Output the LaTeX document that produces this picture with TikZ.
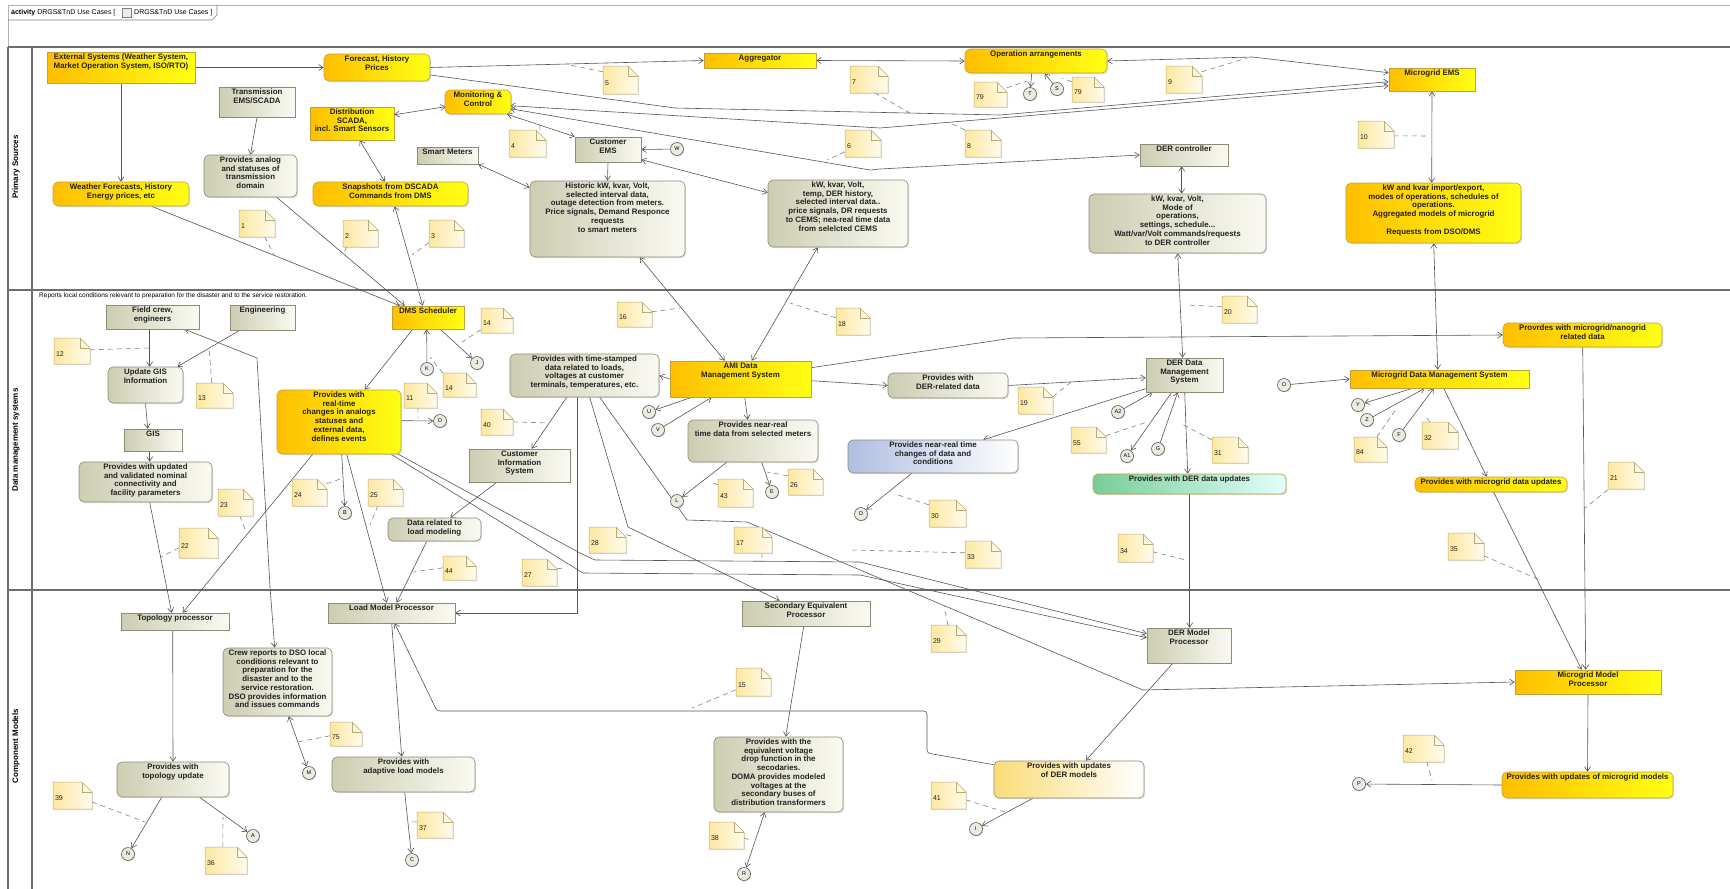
\documentclass[tikz,border=0pt]{standalone}
\usepackage{fontspec}
\setmainfont{Liberation Sans}
\usetikzlibrary{arrows.meta,calc,shadows}
\pgfdeclarelayer{bg}
\pgfsetlayers{bg,main}
\definecolor{yl}{RGB}{255,190,0}
\definecolor{yr}{RGB}{255,255,20}
\definecolor{ybd}{RGB}{190,160,60}
\definecolor{gl}{RGB}{205,205,178}
\definecolor{gr}{RGB}{250,250,243}
\definecolor{gbd}{RGB}{140,140,120}
\definecolor{nl}{RGB}{253,232,160}
\definecolor{nr}{RGB}{255,251,236}
\definecolor{nbd}{RGB}{185,170,120}
\definecolor{bl}{RGB}{175,190,225}
\definecolor{grl}{RGB}{120,205,150}
\definecolor{grr}{RGB}{225,255,250}
\definecolor{lyl}{RGB}{250,220,120}
\definecolor{lnc}{RGB}{85,85,85}
\definecolor{frc}{RGB}{110,110,110}
\definecolor{cfill}{RGB}{235,235,225}
\definecolor{txc}{RGB}{35,35,35}
\newcommand\TBox[3]{\parbox[c][#2pt][t]{#1pt}{\centering\vspace*{1.5pt}\begin{tabular}{@{}c@{}}#3\end{tabular}\par}}
\newcommand\BX[7]{\node[#1] (#2) at (#3,#4) {\TBox{#5}{#6}{#7}};}
\newcommand\CIRC[4]{\node[circ] (#1) at (#2,#3) {#4};}
\newcommand\NOTE[6]{%
 \path[notefill] (#2,#3) -- ({#4-10},#3) -- (#4,{#3+10}) -- (#4,#5) -- (#2,#5) -- cycle;
 \draw[nbd, line width=0.5pt] ({#4-10},#3) -- ({#4-10},{#3+10}) -- (#4,{#3+10});
 \node[notenode, minimum width={(#4-#2)*1pt}, minimum height={(#5-#3)*1pt}] (#1) at ({(#2+#4)/2},{(#3+#5)/2}) {};
 \node[notetext, anchor=west] (#1-t) at ($(#1.west)+(2,3)$) {#6};}
\newcommand\NDASH[5]{\coordinate (#1-e) at (#4,#5); \draw[notedash] ($(#1.north west)+(#2,#3)$) -- (#1-e);}
\begin{document}
\begin{tikzpicture}[x=1pt,y=-1pt,
  ln/.style={draw=lnc, line width=0.6pt},
  arr/.style={ln, -{Straight Barb[length=4.5pt,width=6pt]}},
  barr/.style={ln, {Straight Barb[length=4.5pt,width=6pt]}-{Straight Barb[length=4.5pt,width=6pt]}},
  box/.style={inner sep=0pt, font=\bfseries\fontsize{7.9}{8.7}\selectfont, text=txc, line width=0.6pt,
     drop shadow={shadow xshift=1.2pt, shadow yshift=-1.2pt, opacity=0.25}},
  ybox/.style={box, draw=ybd, left color=yl, right color=yr},
  gbox/.style={box, draw=gbd, left color=gl, right color=gr},
  bbox/.style={box, draw=gbd, left color=bl, right color=white},
  grbox/.style={box, draw=ybd, left color=grl, right color=grr},
  lybox/.style={box, draw=gbd, left color=lyl, right color=white},
  rnd/.style={rounded corners=5pt},
  circ/.style={circle, draw=gray!70!black, fill=cfill, minimum size=13pt, inner sep=0pt, line width=0.6pt,
     font=\fontsize{5.5}{6}\selectfont, drop shadow={shadow xshift=0.8pt, shadow yshift=-0.8pt, opacity=0.25}},
  notefill/.style={draw=nbd, line width=0.5pt, left color=nl, right color=nr,
     drop shadow={shadow xshift=1pt, shadow yshift=-1pt, opacity=0.2}},
  notenode/.style={inner sep=0pt, draw=none},
  notetext/.style={inner sep=0pt, font=\fontsize{7}{8}\selectfont, text=txc},
  notedash/.style={draw=gray, line width=0.6pt, dash pattern=on 5pt off 4pt},
  frame/.style={draw=frc, line width=1.2pt}
]
\useasboundingbox (0,0) rectangle (1730,889);

% ---------- tab and lane labels ----------
\node[anchor=west, inner sep=0pt, font=\fontsize{7}{8}\selectfont] (tab1) at (11,12.5) {\textbf{activity}\ DRGS\&TnD Use Cases [};
\node[draw=gray, fill=gray!15, minimum width=9pt, minimum height=9pt, inner sep=0pt] (tabicon) at (127,12.5) {};
\node[anchor=west, inner sep=0pt, font=\fontsize{7}{8}\selectfont] (tab2) at (134,12.5) {DRGS\&TnD Use Cases ]};
\node[rotate=90, font=\bfseries\fontsize{8}{9}\selectfont] (lane1) at (16,167) {Primary Sources};
\node[rotate=90, font=\bfseries\fontsize{8}{9}\selectfont] (lane2) at (16,440) {Data management systems};
\node[rotate=90, font=\bfseries\fontsize{8}{9}\selectfont] (lane3) at (16,746) {Component Models};
\node[anchor=west, inner sep=0pt, font=\fontsize{6.5}{7}\selectfont] (rep) at (39,295.5) {Reports local conditions relevant to preparation for the disaster and to the service restoration.};

% ---------- Primary Sources ----------
\BX{ybox}{ext}{121}{67.5}{148}{31}{External Systems (Weather System,\\ Market Operation System, ISO/RTO)}
\BX{ybox,rnd}{fcst}{377}{67.5}{106}{27}{Forecast, History\\Prices}
\BX{gbox}{tems}{257}{102}{76}{30}{Transmission\\EMS/SCADA}
\BX{ybox}{dscada}{352}{123.5}{84}{33}{Distribution\\SCADA,\\incl. Smart Sensors}
\BX{gbox,rnd}{analog}{250.5}{176}{93}{42}{Provides analog\\and statuses of\\transmission\\domain}
\BX{ybox,rnd}{wfc}{121}{194}{136}{24}{Weather Forecasts, History\\Energy prices, etc}
\BX{ybox,rnd}{snap}{390.5}{194}{155}{24}{Snapshots from DSCADA\\Commands from DMS}
\BX{gbox}{smeters}{447.5}{155.5}{61}{17}{Smart Meters}
\BX{ybox}{agg}{760}{60.5}{112}{15}{Aggregator}
\BX{ybox,rnd}{mon}{478}{102}{66}{24}{Monitoring \&\\Control}
\BX{gbox}{cems}{608}{149.5}{66}{25}{Customer\\EMS}
\BX{gbox,rnd}{hist}{607.5}{219}{155}{76}{Historic kW, kvar, Volt,\\selected interval data,\\outage detection from meters.\\Price signals, Demand Responce\\requests\\to smart meters}
\BX{gbox,rnd}{kwbox}{838}{213.5}{140}{67}{kW, kvar, Volt,\\temp, DER history,\\selected interval data..\\price signals, DR requests\\to CEMS; nea-real time data\\from selelcted CEMS}
\BX{ybox,rnd}{oparr}{1036}{61}{142}{24}{Operation arrangements}
\BX{gbox}{derc}{1184}{155}{88}{22}{DER controller}
\BX{gbox,rnd}{kwmode}{1177.5}{223.5}{177}{59}{kW, kvar, Volt,\\Mode of\\operations,\\settings, schedule...\\Watt/var/Volt commands/requests\\to DER controller}
\BX{ybox}{mems}{1432}{79.5}{86}{23}{Microgrid EMS}
\BX{ybox,rnd}{kwimp}{1433.5}{213}{175}{60}{kW and kvar import/export,\\modes of operations,  schedules of\\operations.\\Aggregated models of microgrid\\ \\Requests from DSO/DMS}

% ---------- Data management systems ----------
\BX{gbox}{field}{152.5}{317}{93}{24}{Field crew,\\engineers}
\BX{gbox}{eng}{262.5}{317.5}{65}{25}{Engineering}
\BX{gbox,rnd}{ugis}{145.5}{385}{75}{36}{Update GIS\\Information}
\BX{gbox}{gis}{153}{440}{58}{22}{GIS}
\BX{gbox,rnd}{conn}{145.5}{482}{133}{40}{Provides with updated\\and  validated nominal\\connectivity and\\facility parameters}
\BX{ybox}{dms}{428}{317.5}{72}{23}{DMS Scheduler}
\BX{ybox,rnd}{rt}{339}{422}{124}{64}{Provides with\\real-time\\changes in analogs\\statuses and\\external data,\\defines events}
\BX{gbox,rnd}{dload}{434.5}{529.5}{93}{23}{Data related to\\load modeling}
\BX{gbox,rnd}{ts}{584.5}{375.5}{149}{43}{Provides with time-stamped\\data related to loads,\\voltages at customer\\terminals, temperatures, etc.}
\BX{ybox}{ami}{740.5}{379}{141}{36}{AMI Data\\Management  System}
\BX{gbox,rnd}{nrm}{753}{441}{130}{42}{Provides near-real\\time data from selected meters}
\BX{gbox}{cis}{519.5}{465.5}{101}{33}{Customer\\Information\\System}
\BX{gbox,rnd}{derrel}{948}{385.5}{120}{25}{Provides with\\DER-related data}
\BX{gbox}{derdms}{1184.5}{375}{77}{34}{DER Data\\Management\\System}
\BX{bbox,rnd}{nrc}{933}{456.5}{170}{33}{Provides near-real time\\changes of data and\\conditions}
\BX{grbox,rnd}{derupd}{1189.5}{484}{193}{20}{Provides with DER data updates}
\BX{ybox,rnd}{nano}{1582.5}{335}{159}{24}{Provrdes with microgrid/nanogrid\\related data}
\BX{ybox}{mdms}{1439.5}{379}{179}{18}{Microgrid Data Management  System}
\BX{ybox,rnd}{mupd}{1491}{484.5}{152}{15}{Provides with microgrid data updates}

% ---------- Component Models ----------
\BX{gbox}{topo}{175}{621.5}{108}{17}{Topology processor}
\BX{gbox,rnd}{crew}{277.5}{682}{109}{68}{Crew reports to DSO local\\conditions relevant to\\preparation for the\\disaster and to the\\service restoration.\\DSO provides information\\and issues commands}
\BX{gbox}{lmp}{391.5}{613}{127}{20}{Load Model Processor}
\BX{gbox,rnd}{topu}{173}{779.5}{112}{35}{Provides with\\topology update}
\BX{gbox,rnd}{adapt}{403.5}{774.5}{143}{35}{Provides with\\adaptive load models}
\BX{gbox}{sep}{806}{613.5}{128}{25}{Secondary Equivalent\\Processor}
\BX{gbox,rnd}{eqv}{778.5}{774.5}{129}{75}{Provides with the\\equivalent voltage\\drop function in the\\secodaries.\\DOMA provides modeled\\voltages at the\\secondary buses of\\distribution transformers}
\BX{gbox}{dermp}{1189}{645.5}{84}{35}{DER Model\\Processor}
\BX{lybox,rnd}{derupm}{1069}{779.5}{150}{37}{Provides with updates\\of DER models}
\BX{ybox}{mmp}{1588}{682}{146}{24}{Microgrid Model\\Processor}
\BX{ybox,rnd}{mupm}{1587.5}{785}{171}{26}{Provides with updates of microgrid models}

% ---------- pins ----------
\CIRC{W}{677}{149}{W}
\CIRC{T}{1030}{94}{T}
\CIRC{S}{1057}{89}{S}
\CIRC{K}{427}{369}{K}
\CIRC{O1}{440}{421}{O}
\CIRC{B}{345}{513}{B}
\CIRC{J}{477}{363}{J}
\CIRC{U}{649}{412}{U}
\CIRC{V}{658}{430}{V}
\CIRC{L}{677}{501}{L}
\CIRC{E}{772}{492}{E}
\CIRC{D}{861}{514}{D}
\CIRC{A2}{1118}{412}{A2}
\CIRC{A1}{1127}{456}{A1}
\CIRC{G}{1158}{449}{G}
\CIRC{O2}{1284}{385}{O}
\CIRC{Y}{1358}{405}{Y}
\CIRC{Z}{1367}{420}{Z}
\CIRC{F}{1399}{435}{F}
\CIRC{A}{253}{836}{A}
\CIRC{N}{128}{854}{N}
\CIRC{M}{309}{773}{M}
\CIRC{C}{412}{860}{C}
\CIRC{R}{744}{874}{R}
\CIRC{I}{976}{829}{I}
\CIRC{P}{1359}{784}{P}

% ---------- notes ----------
\NOTE{n1}{239}{210}{275}{237}{1}
\NOTE{n2}{343}{220}{378}{247}{2}
\NOTE{n3}{429}{220}{464}{247}{3}
\NOTE{n4}{509}{130}{546}{157}{4}
\NOTE{n5}{603}{66}{638}{94}{5}
\NOTE{n7}{850}{66}{888}{93}{7}
\NOTE{n6}{845}{130}{881}{157}{6}
\NOTE{n79a}{974}{82}{1007}{107}{79}
\NOTE{n79b}{1072}{77}{1104}{102}{79}
\NOTE{n9}{1166}{66}{1202}{93}{9}
\NOTE{n8}{965}{130}{1001}{157}{8}
\NOTE{n10}{1358}{121}{1394}{148}{10}
\NOTE{n12}{54}{338}{90}{364}{12}
\NOTE{n13}{196}{383}{233}{408}{13}
\NOTE{n23}{218}{489}{253}{516}{23}
\NOTE{n22}{179}{528}{218}{558}{22}
\NOTE{n11}{404}{383}{437}{408}{11}
\NOTE{n24}{292}{479}{327}{506}{24}
\NOTE{n25}{368}{479}{403}{506}{25}
\NOTE{n14a}{481}{308}{513}{333}{14}
\NOTE{n14b}{443}{373}{476}{397}{14}
\NOTE{n16}{617}{302}{652}{327}{16}
\NOTE{n18}{836}{308}{870}{335}{18}
\NOTE{n40}{481}{409}{513}{435}{40}
\NOTE{n43}{718}{479}{753}{507}{43}
\NOTE{n26}{788}{469}{823}{495}{26}
\NOTE{n28}{589}{527}{626}{553}{28}
\NOTE{n17}{734}{527}{772}{553}{17}
\NOTE{n44}{443}{556}{476}{580}{44}
\NOTE{n27}{522}{559}{557}{586}{27}
\NOTE{n20}{1222}{296}{1257}{323}{20}
\NOTE{n19}{1018}{387}{1053}{414}{19}
\NOTE{n55}{1071}{427}{1106}{453}{55}
\NOTE{n31}{1212}{437}{1248}{463}{31}
\NOTE{n30}{929}{500}{966}{527}{30}
\NOTE{n33}{965}{541}{1001}{568}{33}
\NOTE{n34}{1118}{534}{1153}{562}{34}
\NOTE{n84}{1354}{437}{1387}{462}{84}
\NOTE{n32}{1422}{422}{1458}{449}{32}
\NOTE{n21}{1608}{462}{1644}{489}{21}
\NOTE{n35}{1448}{533}{1484}{560}{35}
\NOTE{n75}{330}{722}{362}{746}{75}
\NOTE{n39}{53}{782}{92}{809}{39}
\NOTE{n36}{205}{847}{247}{874}{36}
\NOTE{n37}{417}{812}{453}{838}{37}
\NOTE{n15}{736}{668}{771}{696}{15}
\NOTE{n38}{709}{822}{744}{849}{38}
\NOTE{n29}{931}{625}{966}{652}{29}
\NOTE{n41}{931}{782}{966}{809}{41}
\NOTE{n42}{1403}{735}{1444}{762}{42}

\begin{pgfonlayer}{bg}
\fill[white] (0,0) rectangle (1730,889);
% frame
\draw[draw=gray!60, line width=1pt] (8,889) -- (8,5) -- (1730,5);
\draw[draw=gray, line width=0.6pt] (8,20) -- (212,20) -- (217,15) -- (217,5);
\draw[frame] (8,47) -- (1730,47);
\draw[frame] (8,290) -- (1730,290);
\draw[frame] (8,590) -- (1730,590);
\draw[frame] (32,47) -- (32,889);
\draw[frame] (8,47) -- (8,889);
\draw[gray, line width=0.4pt] ($(tabicon.north west)+(2,3)$) -- ($(tabicon.north east)+(-2,3)$);
\draw[gray, line width=0.4pt] ($(tabicon.north west)+(4,3)$) -- ($(tabicon.south west)+(4,-2)$);

% note dashes
\NDASH{n1}{26}{27}{274}{255}
\NDASH{n2}{4}{27}{343}{254}
\NDASH{n3}{0}{23}{412}{255}
\NDASH{n4}{31}{0}{540}{124}
\NDASH{n5}{0}{6}{570}{65}
\NDASH{n7}{25}{27}{910}{113}
\NDASH{n6}{0}{22}{827}{160}
\NDASH{n79a}{33}{6}{1027}{81}
\NDASH{n79b}{0}{5}{1062}{78}
\NDASH{n9}{36}{6}{1247}{58}
\NDASH{n8}{0}{0}{950}{123}
\NDASH{n10}{36}{15}{1430}{136}
\NDASH{n12}{36}{12}{150}{348}
\NDASH{n13}{16}{0}{209}{348}
\NDASH{n23}{22}{27}{246}{532}
\NDASH{n22}{0}{20}{161}{557}
\NDASH{n11}{14}{25}{418}{418}
\NDASH{n24}{35}{5}{343}{478}
\NDASH{n25}{10}{27}{370}{525}
\NDASH{n14a}{0}{22}{462}{342}
\NDASH{n14b}{0}{0}{430}{357}
\NDASH{n16}{35}{10}{680}{308}
\NDASH{n18}{0}{10}{790}{303}
\NDASH{n40}{32}{13}{548}{423}
\NDASH{n43}{0}{6}{710}{482}
\NDASH{n26}{0}{7}{767}{472}
\NDASH{n28}{37}{8}{633}{536}
\NDASH{n17}{28}{26}{762}{558}
\NDASH{n44}{0}{12}{413}{572}
\NDASH{n27}{35}{10}{564}{568}
\NDASH{n20}{0}{11}{1188}{305}
\NDASH{n19}{35}{10}{1071}{382}
\NDASH{n55}{35}{9}{1147}{422}
\NDASH{n31}{0}{3}{1180}{423}
\NDASH{n30}{0}{5}{898}{495}
\NDASH{n33}{0}{12}{850}{550}
\NDASH{n34}{35}{18}{1186}{560}
\NDASH{n84}{23}{0}{1397}{408}
\NDASH{n32}{8}{0}{1425}{416}
\NDASH{n21}{0}{28}{1585}{508}
\NDASH{n35}{36}{23}{1540}{580}
\NDASH{n75}{0}{14}{298}{742}
\NDASH{n39}{39}{20}{145}{822}
\NDASH{n36}{18}{0}{223}{817}
\NDASH{n37}{0}{10}{411}{822}
\NDASH{n15}{0}{22}{692}{708}
\NDASH{n38}{35}{16}{750}{840}
\NDASH{n29}{17}{0}{944}{606}
\NDASH{n41}{35}{18}{1008}{813}
\NDASH{n42}{24}{27}{1432}{780}

% ---------- connectors: primary ----------
\draw[arr] (ext.east) -- (fcst.west);
\draw[arr] (ext.south) -- (wfc.north);
\draw[arr] (tems.south) -- (analog.north);
\draw[arr] (fcst.east) -- (agg.west);
\draw[arr] ($(fcst.north east)+(-2,21)$) -- (675,108) -- (1000,115) -- ($(mems.north west)+(0,14)$);
\draw[barr] (agg.east) -- (oparr.west);
\draw[barr] ($(mems.north west)+(0,5)$) -- (1252,57) -- (oparr.east);
\draw[barr] ($(mon.north west)+(1,17)$) -- ($(dscada.north east)+(0,8)$);
\draw[barr] ($(mon.north east)+(-1,16)$) -- (880,128) -- ($(mems.north west)+(0,18)$);
\draw[barr] ($(mon.north east)+(-1,19)$) -- (870,170) -- (880,169) -- (derc.west);
\draw[barr] ($(mon.south east)+(-4,0)$) -- (cems.north west);
\draw[arr] (W) -- (cems.east);
\draw[arr] (cems.south) -- (hist.north);
\draw[barr] (smeters.south east) -- ($(hist.north west)+(0,7)$);
\draw[barr] ($(cems.north east)+(0,23)$) -- ($(kwbox.north west)+(0,13)$);
\draw[barr] ($(hist.south west)+(110,0)$) -- ($(ami.north west)+(55,0)$);
\draw[barr] ($(kwbox.south west)+(50,0)$) -- ($(ami.north west)+(82,0)$);
\draw[barr] ($(derc.south west)+(42,0)$) -- ($(kwmode.north west)+(93,0)$);
\draw[barr] ($(kwmode.south west)+(89,0)$) -- ($(derdms.north west)+(37,0)$);
\draw[barr] (mems.south) -- ($(kwimp.north west)+(86,0)$);
\draw[barr] ($(kwimp.south west)+(88,0)$) -- ($(mdms.north west)+(88,0)$);
\draw[barr] ($(dscada.south west)+(50,0)$) -- ($(snap.north west)+(72,0)$);
\draw[barr] ($(snap.south west)+(82,0)$) -- ($(dms.north west)+(31,0)$);
\draw[arr] ($(wfc.south west)+(99,0)$) -- ($(dms.north west)+(8,0)$);
\draw[arr] ($(analog.south west)+(73,0)$) -- ($(dms.north west)+(13,0)$);
\draw[arr] ($(oparr.south west)+(67,0)$) -- (T);
\draw[arr] (S) -- ($(oparr.south west)+(80,0)$);

% ---------- connectors: data ----------
\draw[arr] ($(field.south west)+(44,0)$) -- ($(ugis.north west)+(42,0)$);
\draw[arr] ($(eng.south west)+(10,0)$) -- ($(ugis.north east)+(-6,0)$);
\draw[arr] (ugis.south) -- ($(gis.north west)+(24,0)$);
\draw[arr] ($(gis.south west)+(26,0)$) -- ($(conn.north west)+(71,0)$);
\draw[barr] ($(field.south west)+(79,0)$) -- (257,358) -- (270,587) -- ($(crew.north west)+(52,0)$);
\draw[arr] ($(dms.south west)+(21,0)$) -- ($(rt.north west)+(88,0)$);
\draw[arr] (K) -- ($(dms.south west)+(35,0)$);
\draw[arr] ($(dms.south east)+(-24,0)$) -- (J);
\draw[arr] ($(rt.north east)+(0,31)$) -- (O1);
\draw[arr] ($(rt.south west)+(65,0)$) -- (B);
\draw[arr] ($(rt.south west)+(70,0)$) -- ($(lmp.north west)+(59,0)$);
\draw[arr] ($(dload.south west)+(39,0)$) -- ($(lmp.north west)+(69,0)$);
\draw[arr] ($(rt.south west)+(36,0)$) -- ($(topo.north west)+(62,0)$);
\draw[arr] ($(conn.south west)+(71,0)$) -- ($(topo.north west)+(51,0)$);
\draw[arr] ($(ts.south west)+(57,0)$) -- ($(cis.north west)+(63,0)$);
\draw[arr] ($(cis.south west)+(28,0)$) -- ($(dload.north east)+(-31,0)$);
\draw[arr] (ami.west) -- (ts.east);
\draw[arr] ($(ami.south west)+(22,0)$) -- (U);
\draw[arr] (V) -- ($(ami.south west)+(42,0)$);
\draw[arr] ($(ami.south west)+(75,0)$) -- ($(nrm.north west)+(60,0)$);
\draw[arr] ($(nrm.south west)+(39,0)$) -- (L);
\draw[arr] ($(nrm.south west)+(74,0)$) -- (E);
\draw[arr] ($(ami.north east)+(0,20)$) -- (derrel.west);
\draw[arr] ($(ami.north east)+(0,7)$) -- (1013,338) -- (nano.west);
\draw[arr] (derrel.east) -- ($(derdms.north west)+(0,20)$);
\draw[arr] ($(derdms.north west)+(0,31)$) -- ($(nrc.north east)+(-35,0)$);
\draw[arr] ($(nrc.south west)+(64,0)$) -- (D);
\draw[arr] (A2) -- ($(derdms.south west)+(7,0)$);
\draw[arr] ($(derdms.south west)+(26,0)$) -- (A1);
\draw[arr] (G) -- ($(derdms.south west)+(32,0)$);
\draw[arr] ($(derdms.south west)+(39,0)$) -- ($(derupd.north west)+(95,0)$);
\draw[arr] ($(derupd.south west)+(97,0)$) -- ($(dermp.north west)+(43,0)$);
\draw[arr] (O2) -- (mdms.west);
\draw[arr] ($(mdms.south west)+(63,0)$) -- (Y);
\draw[arr] (Z) -- ($(mdms.south west)+(75,0)$);
\draw[arr] (F) -- ($(mdms.south west)+(84,0)$);
\draw[arr] ($(mdms.south west)+(94,0)$) -- ($(mupd.north west)+(72,0)$);
\draw[arr] ($(mupd.south west)+(79,0)$) -- ($(mmp.north west)+(67,0)$);
\draw[arr] ($(nano.south west)+(80,0)$) -- ($(mmp.north west)+(71,0)$);

% ---------- long connectors ----------
\draw[arr] ($(ts.south west)+(68,0)$) |- (lmp.east);
\draw[arr] ($(ts.south west)+(80,0)$) -- (628,527) -- ($(sep.north west)+(38,0)$);
\draw[arr] ($(ts.south west)+(90,0)$) -- (687,520) -- (747,522) -- (1143,690) -- (mmp.west);
\draw[arr] ($(rt.south east)+(-3,0)$) -- (580,553) -- (595,560) -- (860,562) -- ($(dermp.north west)+(0,6)$);
\draw[arr] ($(rt.south east)+(-10,0)$) -- (583,573) -- (860,575) -- ($(dermp.north west)+(0,10)$);
\draw[arr, rounded corners=3pt] ($(derupm.north west)+(0,4)$) -- (927,753) -- (927,711) -- (437,711) -- ($(lmp.south west)+(67,0)$);

% ---------- connectors: component ----------
\draw[arr] ($(lmp.south west)+(64,0)$) -- ($(adapt.north west)+(70,0)$);
\draw[arr] ($(adapt.south west)+(73,0)$) -- (C);
\draw[arr] ($(topo.south west)+(52,0)$) -- (topu.north);
\draw[arr] ($(topu.south west)+(45,0)$) -- (N);
\draw[arr] ($(topu.south west)+(83,0)$) -- (A);
\draw[barr] ($(crew.south west)+(66,0)$) -- (M);
\draw[arr] ($(sep.south west)+(62,0)$) -- ($(eqv.north west)+(72,0)$);
\draw[barr] ($(eqv.south west)+(51,0)$) -- (R);
\draw[arr] ($(dermp.south west)+(26,0)$) -- ($(derupm.north west)+(92,0)$);
\draw[arr] ($(derupm.south west)+(39,0)$) -- (I);
\draw[arr] (mmp.south) -- (mupm.north);
\draw[arr] (mupm.west) -- (P);
\end{pgfonlayer}
\end{tikzpicture}
\end{document}
